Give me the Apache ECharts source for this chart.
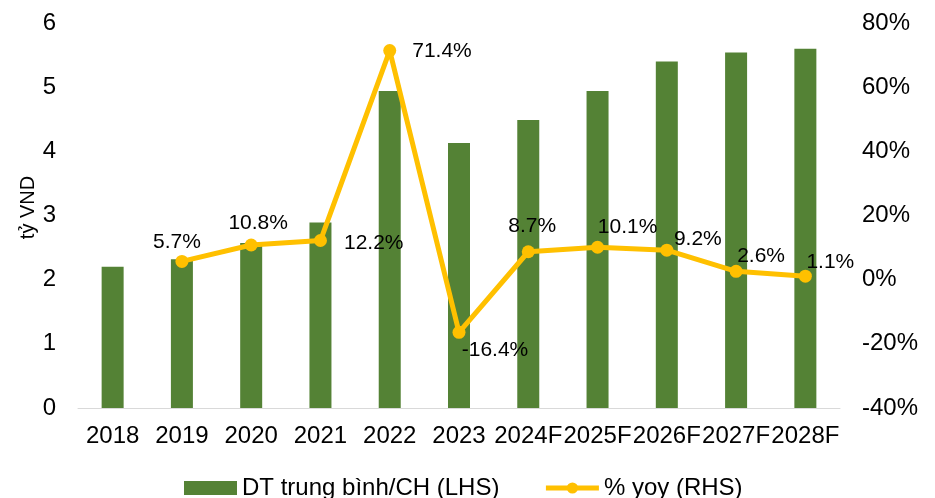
<!DOCTYPE html>
<html>
<head>
<meta charset="utf-8">
<script src="https://cdn.jsdelivr.net/npm/echarts@6/dist/echarts.min.js"></script>
<style>
html,body{margin:0;padding:0;background:#fff;}
#c{width:935px;height:498px;}
</style>
</head>
<body>
<div id="c"></div>
<script>
var categories = ['2018','2019','2020','2021','2022','2023','2024F','2025F','2026F','2027F','2028F'];
var revenuePerStore = [2.20, 2.32, 2.57, 2.89, 4.94, 4.13, 4.49, 4.94, 5.40, 5.54, 5.60];
var yoyPct = [null, 5.7, 10.8, 12.2, 71.4, -16.4, 8.7, 10.1, 9.2, 2.6, 1.1];
var leftTicks = {min: 0, max: 6, interval: 1};
var rightTicks = {min: -40, max: 80, interval: 20};
var seriesNames = ['DT trung bình/CH (LHS)', '% yoy (RHS)'];
var axisName = 'tỷ VND';

// label placement (style only)
var labelPlace = [
  null,
  {position: 'top', offset: [-5, 3]},
  {position: 'top', offset: [7, 0]},
  {position: 'right', offset: [12, 3]},
  {position: 'right', offset: [11, 1]},
  {position: 'bottom', offset: [36, -4]},
  {position: 'top', offset: [4, -4]},
  {position: 'top', offset: [30, 2]},
  {position: 'top', offset: [31, 11]},
  {position: 'top', offset: [25, 7]},
  {position: 'top', offset: [25, 8]}
];

var FONT = 'Liberation Sans, Arial, sans-serif';
var AX = 24;
var lineData = yoyPct.map(function (v, i) {
  if (v === null) return null;
  var p = labelPlace[i];
  return {value: v, label: {position: p.position, offset: p.offset}};
});

var chart = echarts.init(document.getElementById('c'), null, {renderer: 'canvas'});
chart.setOption({
  animation: false,
  backgroundColor: '#ffffff',
  textStyle: {fontFamily: FONT},
  grid: {left: 78, right: 95, top: 23, bottom: 90, containLabel: false},
  legend: {
    top: 471,
    left: 179,
    itemWidth: 53,
    itemHeight: 14,
    itemGap: 44,
    textStyle: {fontFamily: FONT, fontSize: AX, color: '#000'},
    lineStyle: {width: 5},
    data: [
      {name: seriesNames[0], icon: 'rect'},
      {name: seriesNames[1]}
    ]
  },
  xAxis: {
    type: 'category',
    data: categories,
    axisLine: {lineStyle: {color: '#d9d9d9', width: 1}},
    axisTick: {show: false},
    axisLabel: {color: '#000', fontSize: AX, fontFamily: FONT, margin: 16, interval: 0}
  },
  yAxis: [
    {
      type: 'value',
      min: leftTicks.min, max: leftTicks.max, interval: leftTicks.interval,
      name: axisName,
      nameLocation: 'middle',
      nameGap: 40,
      nameRotate: 90,
      nameMoveOverlap: false,
      nameTextStyle: {color: '#000', fontSize: 20, fontFamily: FONT, padding: [0, 0, 0, 16]},
      axisLine: {show: false},
      axisTick: {show: false},
      splitLine: {show: false},
      axisLabel: {color: '#000', fontSize: AX, fontFamily: FONT, margin: 22}
    },
    {
      type: 'value',
      min: rightTicks.min, max: rightTicks.max, interval: rightTicks.interval,
      position: 'right',
      axisLine: {show: false},
      axisTick: {show: false},
      splitLine: {show: false},
      axisLabel: {color: '#000', fontSize: AX, fontFamily: FONT, margin: 22, formatter: '{value}%'}
    }
  ],
  series: [
    {
      name: seriesNames[0],
      type: 'bar',
      yAxisIndex: 0,
      data: revenuePerStore,
      barWidth: 22,
      itemStyle: {color: '#548235'},
      z: 2
    },
    {
      name: seriesNames[1],
      type: 'line',
      yAxisIndex: 1,
      data: lineData,
      symbol: 'circle',
      symbolSize: 13,
      lineStyle: {color: '#FFC000', width: 5},
      itemStyle: {color: '#FFC000'},
      label: {
        show: true,
        color: '#000',
        fontSize: 21,
        fontFamily: FONT,
        formatter: function (p) { return p.value.toFixed(1) + '%'; }
      },
      z: 5
    }
  ]
});
</script>
</body>
</html>
